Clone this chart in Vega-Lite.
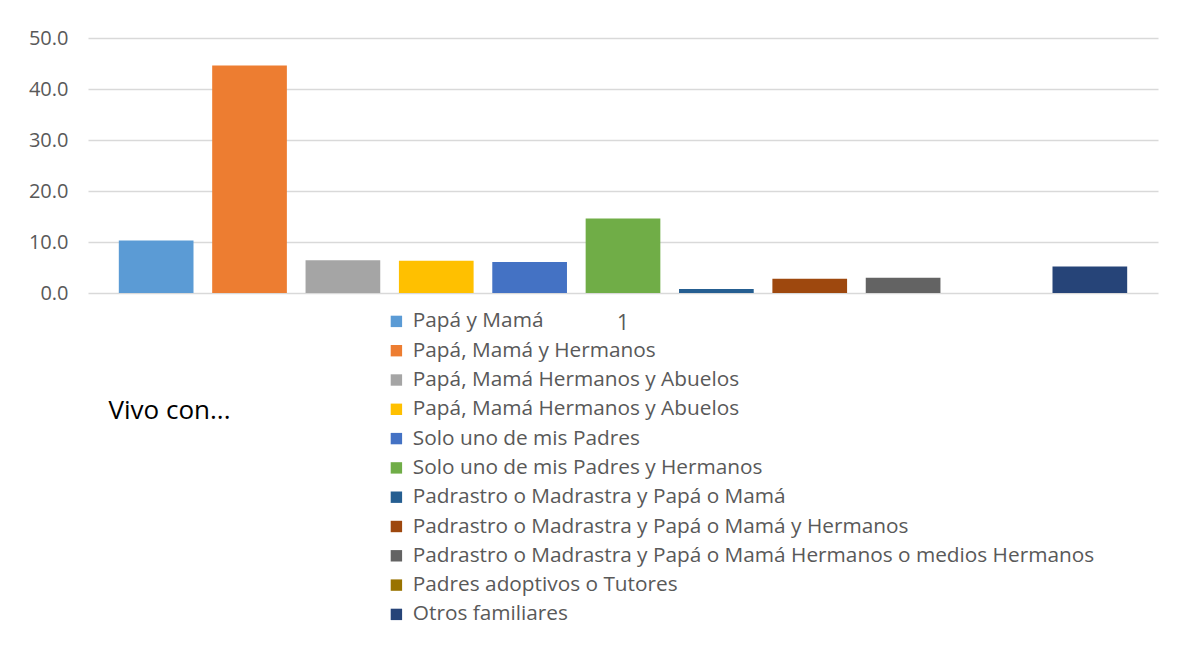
{
  "$schema": "https://vega.github.io/schema/vega-lite/v6.json",
  "width": 1070,
  "height": 255,
  "autosize": {"type": "none"},
  "padding": {"left": 88, "top": 38, "right": 30, "bottom": 354},
  "background": "white",
  "data": {
    "values": [
      {"cat": "1", "id": "s01", "name": "Papá y Mamá", "value": 10.3},
      {"cat": "1", "id": "s02", "name": "Papá, Mamá y Hermanos", "value": 44.6},
      {"cat": "1", "id": "s03", "name": "Papá, Mamá Hermanos y Abuelos", "value": 6.4},
      {"cat": "1", "id": "s04", "name": "Papá, Mamá Hermanos y Abuelos", "value": 6.3},
      {"cat": "1", "id": "s05", "name": "Solo uno de mis Padres", "value": 6.1},
      {"cat": "1", "id": "s06", "name": "Solo uno de mis Padres y Hermanos", "value": 14.6},
      {"cat": "1", "id": "s07", "name": "Padrastro o Madrastra y Papá o Mamá", "value": 0.8},
      {"cat": "1", "id": "s08", "name": "Padrastro o Madrastra y Papá o Mamá y Hermanos", "value": 2.8},
      {"cat": "1", "id": "s09", "name": "Padrastro o Madrastra y Papá o Mamá Hermanos o medios Hermanos", "value": 3.0},
      {"cat": "1", "id": "s10", "name": "Padres adoptivos o Tutores", "value": 0.0},
      {"cat": "1", "id": "s11", "name": "Otros familiares", "value": 5.2}
    ]
  },
  "mark": {"type": "bar"},
  "encoding": {
    "x": {
      "field": "cat",
      "type": "nominal",
      "scale": {"paddingInner": 0, "paddingOuter": 0},
      "axis": {
        "title": "Vivo con...",
        "titleX": 20,
        "titleY": 117,
        "titleAlign": "left",
        "titleAnchor": "start",
        "titleBaseline": "middle",
        "titleFontSize": 26,
        "titleFontWeight": "normal",
        "titleColor": "#000000",
        "titleFont": "Open Sans",
        "labelAngle": 0,
        "labelFontSize": 21,
        "labelColor": "#595959",
        "labelFont": "Open Sans",
        "labelPadding": 19,
        "ticks": false,
        "domain": false
      }
    },
    "xOffset": {
      "field": "id",
      "type": "nominal",
      "scale": {"paddingInner": 0.2, "paddingOuter": 0.33}
    },
    "y": {
      "field": "value",
      "type": "quantitative",
      "scale": {"domain": [0, 50]},
      "axis": {
        "title": null,
        "values": [0, 10, 20, 30, 40, 50],
        "format": ".1f",
        "labelFontSize": 20,
        "labelColor": "#595959",
        "labelFont": "Open Sans",
        "labelPadding": 20,
        "ticks": false,
        "domain": false,
        "gridColor": "#d9d9d9",
        "gridWidth": 1.5
      }
    },
    "color": {
      "field": "id",
      "type": "nominal",
      "scale": {
        "domain": ["s01", "s02", "s03", "s04", "s05", "s06", "s07", "s08", "s09", "s10", "s11"],
        "range": ["#5B9BD5", "#ED7D31", "#A5A5A5", "#FFC000", "#4472C4", "#70AD47", "#255E91", "#9E480E", "#636363", "#997300", "#264478"]
      },
      "legend": {
        "title": null,
        "orient": "none",
        "legendX": 298,
        "legendY": 273,
        "symbolType": "square",
        "symbolSize": 130,
        "symbolStrokeWidth": 0,
        "labelFontSize": 20.8,
        "labelFont": "Open Sans",
        "labelColor": "#595959",
        "labelLimit": 900,
        "labelOffset": 6,
        "rowPadding": 7.3,
        "labelExpr": "{'s01':'Papá y Mamá','s02':'Papá, Mamá y Hermanos','s03':'Papá, Mamá Hermanos y Abuelos','s04':'Papá, Mamá Hermanos y Abuelos','s05':'Solo uno de mis Padres','s06':'Solo uno de mis Padres y Hermanos','s07':'Padrastro o Madrastra y Papá o Mamá','s08':'Padrastro o Madrastra y Papá o Mamá y Hermanos','s09':'Padrastro o Madrastra y Papá o Mamá Hermanos o medios Hermanos','s10':'Padres adoptivos o Tutores','s11':'Otros familiares'}[datum.label]"
      }
    }
  },
  "config": {
    "view": {"stroke": null}
  }
}
